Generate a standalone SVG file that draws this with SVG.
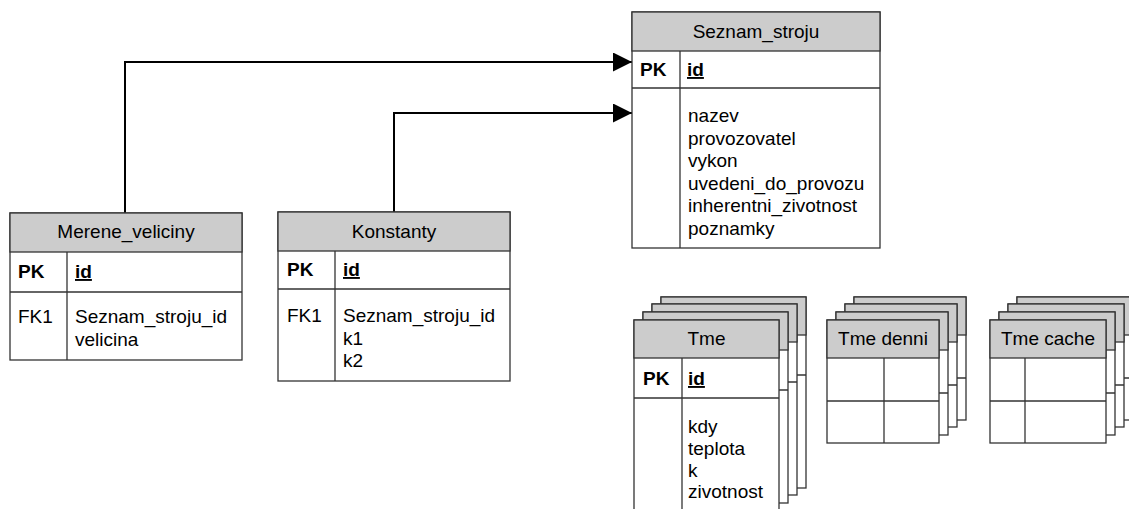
<svg xmlns="http://www.w3.org/2000/svg" xmlns:xlink="http://www.w3.org/1999/xlink" width="1129" height="509" viewBox="0 0 1129 509">
<style>
.box{fill:#fff;stroke:#333;stroke-width:1.3}
.hdr{fill:#cccccc;stroke:#333;stroke-width:1.3}
.ln{stroke:#333;stroke-width:1.3}
text{font-family:"Liberation Sans",Arial,sans-serif;font-size:19px;fill:#000}
.t{text-anchor:middle}
.b{font-weight:bold}
.u{font-weight:bold;text-decoration:underline}
.conn{fill:none;stroke:#000;stroke-width:2}
</style>
<defs>
<marker id="arr" markerUnits="userSpaceOnUse" markerWidth="20" markerHeight="20" refX="19" refY="9.5" orient="auto">
<path d="M0,0 L19,9.5 L0,19 Z" fill="#000"/>
</marker>
<g id="tmeCard">
<rect width="145" height="191" class="box"/>
<rect width="145" height="38" class="hdr"/>
<line x1="0" y1="78" x2="145" y2="78" class="ln"/>
<line x1="48" y1="38" x2="48" y2="191" class="ln"/>
</g>
<g id="denniCard">
<rect width="112" height="123" class="box"/>
<rect width="112" height="38" class="hdr"/>
<line x1="0" y1="81" x2="112" y2="81" class="ln"/>
<line x1="57" y1="38" x2="57" y2="123" class="ln"/>
</g>
<g id="cacheCard">
<rect width="116" height="123" class="box"/>
<rect width="116" height="38" class="hdr"/>
<line x1="0" y1="81" x2="116" y2="81" class="ln"/>
<line x1="35" y1="38" x2="35" y2="123" class="ln"/>
</g>
</defs>

<g id="connectors">
<path class="conn" d="M125,213 V62 H632" marker-end="url(#arr)"/>
<path class="conn" d="M394,212 V113 H632" marker-end="url(#arr)"/>
</g>

<g id="Seznam_stroju">
<rect x="632" y="12" width="248" height="236" class="box"/>
<rect x="632" y="12" width="248" height="39" class="hdr"/>
<line x1="632" y1="88" x2="880" y2="88" class="ln"/>
<line x1="680" y1="51" x2="680" y2="248" class="ln"/>
<text x="756" y="38" class="t">Seznam_stroju</text>
<text x="640" y="76" class="b">PK</text>
<text x="687" y="76" class="u">id</text>
<text x="688" y="122">nazev</text>
<text x="688" y="144.6">provozovatel</text>
<text x="688" y="167.2">vykon</text>
<text x="688" y="189.8">uvedeni_do_provozu</text>
<text x="688" y="212.4">inherentni_zivotnost</text>
<text x="688" y="235">poznamky</text>
</g>

<g id="Merene_veliciny">
<rect x="10" y="213" width="232" height="147" class="box"/>
<rect x="10" y="213" width="232" height="39" class="hdr"/>
<line x1="10" y1="292" x2="242" y2="292" class="ln"/>
<line x1="67" y1="252" x2="67" y2="360" class="ln"/>
<text x="126" y="238" class="t">Merene_veliciny</text>
<text x="18" y="278" class="b">PK</text>
<text x="75" y="278" class="u">id</text>
<text x="18" y="323">FK1</text>
<text x="75" y="323">Seznam_stroju_id</text>
<text x="75" y="345.5">velicina</text>
</g>

<g id="Konstanty">
<rect x="278" y="212" width="232" height="169" class="box"/>
<rect x="278" y="212" width="232" height="39" class="hdr"/>
<line x1="278" y1="289" x2="510" y2="289" class="ln"/>
<line x1="335" y1="251" x2="335" y2="381" class="ln"/>
<text x="394" y="238" class="t">Konstanty</text>
<text x="287" y="276" class="b">PK</text>
<text x="343" y="276" class="u">id</text>
<text x="287" y="322">FK1</text>
<text x="343" y="322">Seznam_stroju_id</text>
<text x="343" y="344.5">k1</text>
<text x="343" y="367">k2</text>
</g>

<g id="Tme">
<use xlink:href="#tmeCard" x="661" y="297"/>
<use xlink:href="#tmeCard" x="652" y="304"/>
<use xlink:href="#tmeCard" x="643" y="312"/>
<use xlink:href="#tmeCard" x="634" y="320"/>
<text x="706.5" y="345" class="t">Tme</text>
<text x="643" y="385" class="b">PK</text>
<text x="688" y="385" class="u">id</text>
<text x="688" y="433">kdy</text>
<text x="688" y="455">teplota</text>
<text x="688" y="476.5">k</text>
<text x="688" y="498">zivotnost</text>
</g>

<g id="Tme_denni">
<use xlink:href="#denniCard" x="854" y="297"/>
<use xlink:href="#denniCard" x="845" y="304"/>
<use xlink:href="#denniCard" x="836" y="312"/>
<use xlink:href="#denniCard" x="827" y="320"/>
<text x="883" y="345" class="t">Tme denni</text>
</g>

<g id="Tme_cache">
<use xlink:href="#cacheCard" x="1017" y="297"/>
<use xlink:href="#cacheCard" x="1008" y="304"/>
<use xlink:href="#cacheCard" x="999" y="312"/>
<use xlink:href="#cacheCard" x="990" y="320"/>
<text x="1048" y="345" class="t">Tme cache</text>
</g>
</svg>
